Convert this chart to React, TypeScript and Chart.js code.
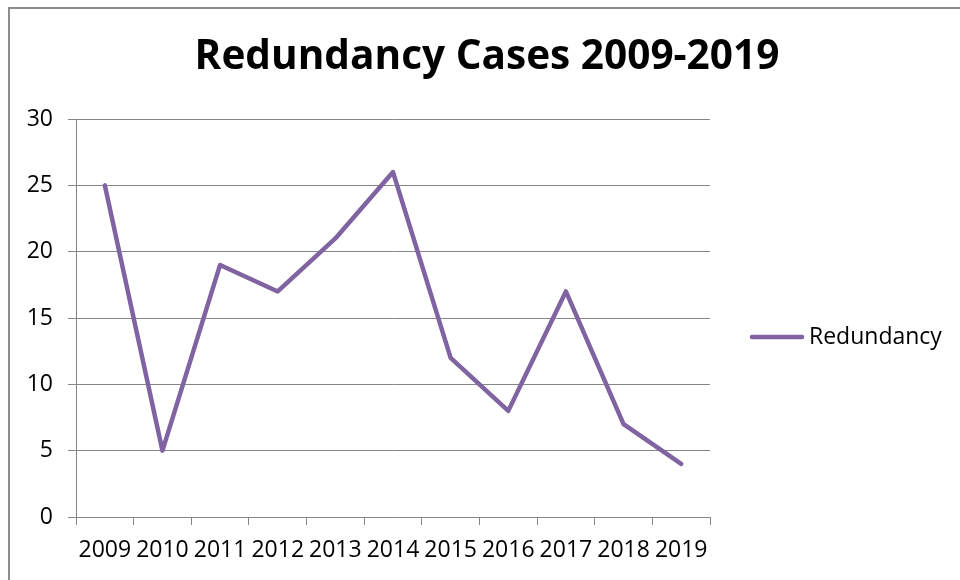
import React, { useEffect, useRef } from "react";
import { Chart, registerables } from "chart.js";

Chart.register(...registerables);

const categories = ["2009", "2010", "2011", "2012", "2013", "2014", "2015", "2016", "2017", "2018", "2019"];
const redundancy = [25, 5, 19, 17, 21, 26, 12, 8, 17, 7, 4];
const seriesName = "Redundancy";
const titleText = "Redundancy Cases 2009-2019";

const FONT = "'Open Sans', 'DejaVu Sans', sans-serif";
const PURPLE = "#8064A2";
const GRID = "#868686";

const overlayPlugin = {
  id: "overlay",
  afterDraw(chart: any) {
    const ctx = chart.ctx;
    ctx.save();
    // title
    let size = 40;
    ctx.font = `bold ${size}px ${FONT}`;
    const w = ctx.measureText(titleText).width;
    const target = 585;
    size = Math.min(44, size * target / w);
    ctx.font = `bold ${size}px ${FONT}`;
    ctx.fillStyle = "#000";
    ctx.textAlign = "center";
    ctx.textBaseline = "middle";
    ctx.fillText(titleText, 487, 57);
    // legend
    ctx.strokeStyle = PURPLE;
    ctx.lineWidth = 4.5;
    ctx.lineCap = "round";
    ctx.beginPath();
    ctx.moveTo(752, 337);
    ctx.lineTo(802, 337);
    ctx.stroke();
    ctx.font = `23px ${FONT}`;
    ctx.textAlign = "left";
    ctx.fillText(seriesName, 809, 337);
    ctx.restore();
  },
};

export default function App() {
  const ref = useRef<HTMLCanvasElement>(null);
  useEffect(() => {
    if (!ref.current) return;
    const chart = new Chart(ref.current, {
      type: "line",
      data: {
        labels: categories,
        datasets: [
          {
            label: seriesName,
            data: redundancy,
            borderColor: PURPLE,
            backgroundColor: PURPLE,
            borderWidth: 4.5,
            pointRadius: 0,
            tension: 0,
            borderJoinStyle: "round",
            borderCapStyle: "round",
          },
        ],
      },
      options: {
        animation: false,
        responsive: false,
        layout: { padding: { left: 8, top: 119, right: 250, bottom: 0 } },
        plugins: {
          legend: { display: false },
          title: { display: false },
          tooltip: { enabled: false },
        },
        scales: {
          x: {
            offset: true,
            afterFit: (s: any) => {
              s.height = 63;
            },
            grid: {
              offset: true,
              drawOnChartArea: false,
              drawTicks: true,
              tickLength: 8,
              color: GRID,
              lineWidth: 1,
            },
            border: { display: true, color: GRID, width: 1 },
            ticks: {
              color: "#000",
              font: { family: FONT, size: 23 },
              padding: 12,
              maxRotation: 0,
              autoSkip: false,
            },
          },
          y: {
            min: 0,
            max: 30,
            afterFit: (s: any) => {
              s.width = 68;
            },
            grid: {
              drawOnChartArea: true,
              drawTicks: true,
              tickLength: 8,
              color: GRID,
              lineWidth: 1,
            },
            border: { display: true, color: GRID, width: 1 },
            ticks: {
              stepSize: 5,
              color: "#000",
              font: { family: FONT, size: 23 },
              padding: 15,
            },
          },
        },
      },
      plugins: [overlayPlugin],
    } as any);
    return () => chart.destroy();
  }, []);
  return (
    <div style={{ position: "fixed", left: 0, top: 0, width: 960, height: 580, background: "#fff" }}>
      <canvas ref={ref} width={960} height={580} style={{ position: "absolute", left: 0, top: 0 }} />
      <div
        style={{
          position: "absolute",
          left: 8,
          top: 7,
          right: -10,
          bottom: -10,
          borderLeft: "2px solid #8c8c8c",
          borderTop: "2px solid #8c8c8c",
          pointerEvents: "none",
        }}
      />
    </div>
  );
}
